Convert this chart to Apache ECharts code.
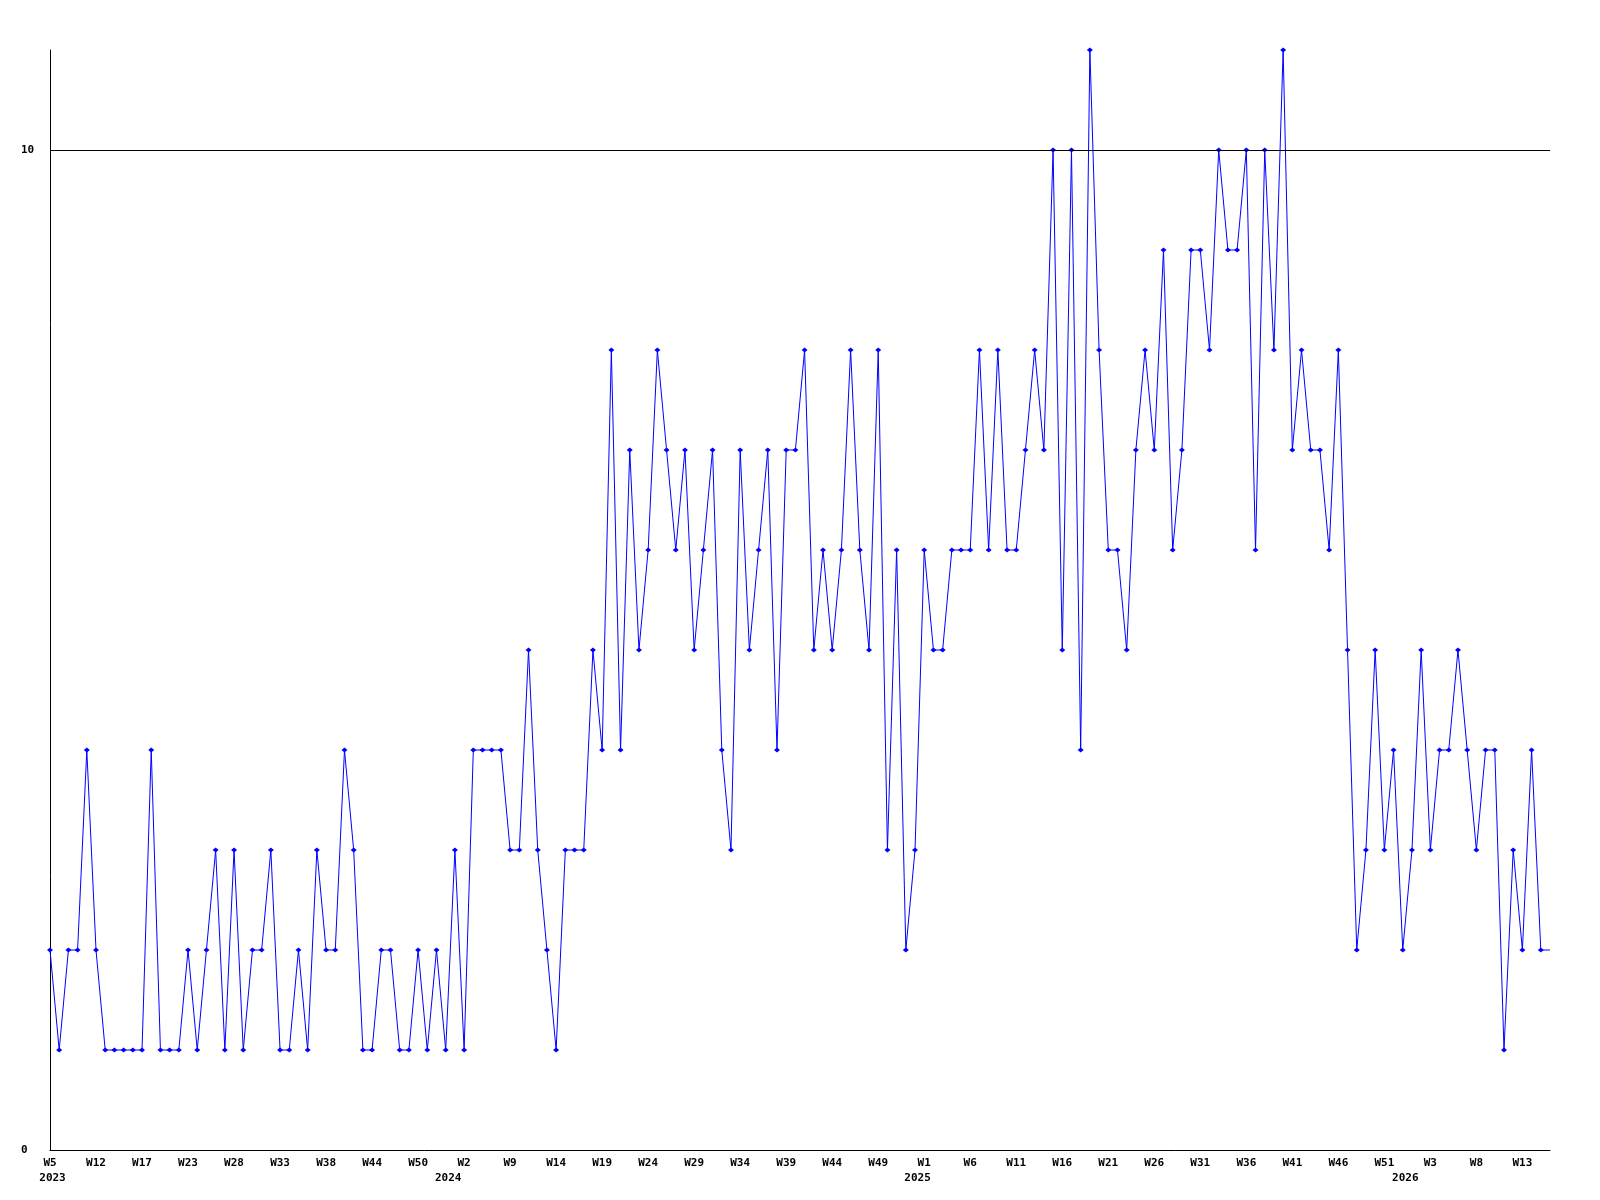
<!DOCTYPE html>
<html>
<head>
<meta charset="utf-8">
<script src="https://cdn.jsdelivr.net/npm/echarts@6/dist/echarts.min.js"></script>
<style>
  html, body { margin: 0; padding: 0; background: #fff; }
  #chart { width: 1600px; height: 1200px; }
</style>
</head>
<body>
<div id="chart"></div>
<script>
// Week numbers present in the data (weeks with no count are absent)
const weeks2023 = [5,6,8,9,11,12,13,14,15,16,17,18,19,20,22,23,24,25,26,27,28,29,30,31,32,33,34,35,36,37,38,39,40,42,43,44,45,46,47,49,50,51,52];
const weeks2024 = [0,1,2,3,5,6,8,9,10,11,12,13,14,15,16,17,18,19,20,21,22,23,24,25,26,27,28,29,30,31,32,33,34,35,36,37,38,39,40,41,42,43,44,45,46,47,48,49,50,51,52];
const weeks2025 = [0,1,2,3,4,5,6,7,8,9,10,11,12,13,14,15,16,17,18,19,20,21,22,23,24,25,26,27,28,29,30,31,32,33,34,35,36,37,38,39,40,41,42,43,44,45,46,47,48,49,50,51,52];
const weeks2026 = [0,1,2,3,4,5,6,7,8,9,10,11,12,13,14,15,16];

// Weekly values
const values = [
  2,1,2,2,4,2,1,1,1,1,1,4,1,1,1,2,1,2,3,1,3,1,2,
  2,3,1,1,2,1,3,2,2,4,3,1,1,2,2,1,1,2,1,2,1,3,1,
  4,4,4,4,3,3,5,3,2,1,3,3,3,5,4,8,4,7,5,6,8,7,6,
  7,5,6,7,4,3,7,5,6,7,4,7,7,8,5,6,5,6,8,6,5,8,3,
  6,2,3,6,5,5,6,6,6,8,6,8,6,6,7,8,7,10,5,10,4,11,8,
  6,6,5,7,8,7,9,6,7,9,9,8,10,9,9,10,6,10,8,11,7,8,7,
  7,6,8,5,2,3,5,3,4,2,3,5,3,4,4,5,4,3,4,4,1,3,2,4,2,2
];

const yTickLabels = [0, 10];
const gridValues = [10];

const categories = []
  .concat(weeks2023.map(w => '2023-W' + w))
  .concat(weeks2024.map(w => '2024-W' + w))
  .concat(weeks2025.map(w => '2025-W' + w))
  .concat(weeks2026.map(w => '2026-W' + w));

const yearOf = c => c.split('-')[0];
const weekOf = c => c.split('-')[1];

const FONT = 'DejaVu Sans Mono';
const labelStyle = { color: '#000', fontFamily: FONT, fontSize: 11, fontWeight: 'bold' };

const chart = echarts.init(document.getElementById('chart'), null, { renderer: 'canvas' });
chart.setOption({
  animation: false,
  backgroundColor: '#fff',
  grid: { left: 50, right: 50, top: 50, bottom: 50 },
  xAxis: [
    {
      type: 'category',
      data: categories,
      boundaryGap: false,
      position: 'bottom',
      axisLine: { show: true, lineStyle: { color: '#000', width: 1 } },
      axisTick: { show: false },
      splitLine: { show: false },
      axisLabel: Object.assign({
        interval: 4,
        margin: 8,
        formatter: v => weekOf(v)
      }, labelStyle)
    },
    {
      type: 'category',
      data: categories,
      boundaryGap: false,
      position: 'bottom',
      offset: 0,
      axisLine: { show: false },
      axisTick: { show: false },
      splitLine: { show: false },
      axisLabel: Object.assign({
        interval: (idx) => idx === 0 || yearOf(categories[idx]) !== yearOf(categories[idx - 1]),
        margin: 23,
        padding: [0, 0, 0, 5],
        formatter: v => yearOf(v)
      }, labelStyle)
    }
  ],
  yAxis: {
    type: 'value',
    min: 0,
    max: 11,
    interval: 10,
    axisLine: { show: true, lineStyle: { color: '#000', width: 1 } },
    axisTick: { show: false },
    splitLine: { show: false },
    axisLabel: Object.assign({
      align: 'left',
      margin: 29,
      formatter: v => (yTickLabels.indexOf(v) >= 0 ? String(v) : '')
    }, labelStyle)
  },
  series: [{
    type: 'line',
    xAxisIndex: 0,
    data: values,
    showAllSymbol: true,
    symbol: 'diamond',
    symbolSize: (val, params) => (params.dataIndex === values.length - 1 ? 0 : [6, 5]),
    lineStyle: { color: '#0000ff', width: 1 },
    itemStyle: { color: '#0000ff' },
    emphasis: { disabled: true },
    markLine: {
      silent: true,
      symbol: ['none', 'none'],
      label: { show: false },
      lineStyle: { color: '#000', width: 1, type: 'solid' },
      data: gridValues.map(v => ({ yAxis: v }))
    }
  }]
});
</script>
</body>
</html>
